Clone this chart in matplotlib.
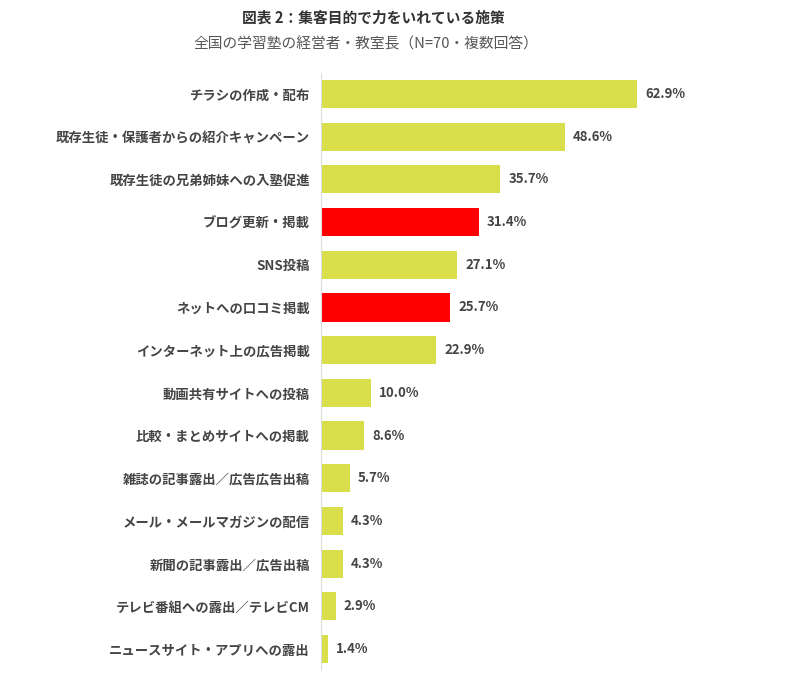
import matplotlib
matplotlib.use('Agg')
import matplotlib.pyplot as plt

plt.rcParams['font.family'] = ['Noto Sans CJK JP', 'DejaVu Sans']

categories = [
    "チラシの作成・配布",
    "既存生徒・保護者からの紹介キャンペーン",
    "既存生徒の兄弟姉妹への入塾促進",
    "ブログ更新・掲載",
    "SNS投稿",
    "ネットへの口コミ掲載",
    "インターネット上の広告掲載",
    "動画共有サイトへの投稿",
    "比較・まとめサイトへの掲載",
    "雑誌の記事露出／広告広告出稿",
    "メール・メールマガジンの配信",
    "新聞の記事露出／広告出稿",
    "テレビ番組への露出／テレビCM",
    "ニュースサイト・アプリへの露出",
]
values = [62.9, 48.6, 35.7, 31.4, 27.1, 25.7, 22.9, 10.0, 8.6, 5.7, 4.3, 4.3, 2.9, 1.4]
highlight = ["ブログ更新・掲載", "ネットへの口コミ掲載"]

yellow = '#d9df4b'
red = '#ff0000'
text_col = '#444444'

fig = plt.figure(figsize=(7.9, 6.99), dpi=100)
W, H = 790, 699
left_px, right_px = 321, 750
top_px, bottom_px = 72.6, 670.4
ax = fig.add_axes([left_px / W, 1 - bottom_px / H,
                   (right_px - left_px) / W, (bottom_px - top_px) / H])

n = len(categories)
ypos = list(range(n))
colors = [red if c in highlight else yellow for c in categories]
ax.barh(ypos, values, height=0.66, color=colors, zorder=2)
ax.set_ylim(n - 0.5, -0.5)
ax.set_xlim(0, (right_px - left_px) / (316 / 62.9))

for y, v in zip(ypos, values):
    ax.text(v + 1.6, y, f"{v:.1f}%", va='center', ha='left',
            fontsize=9.5, fontweight='bold', color=text_col)

ax.set_yticks(ypos)
ax.set_yticklabels(categories, fontsize=9.6, fontweight='bold', color=text_col)
ax.tick_params(axis='y', length=0, pad=8)
ax.set_xticks([])
for s in ['top', 'right', 'bottom']:
    ax.spines[s].set_visible(False)
ax.spines['left'].set_color('#dddddd')
ax.spines['left'].set_linewidth(0.8)

fig.text(373 / W, 1 - 18 / H, "図表 2：集客目的で力をいれている施策", ha='center', va='center',
         fontsize=10.6, fontweight='bold', color='#333333')
fig.text(366 / W, 1 - 44 / H, "全国の学習塾の経営者・教室長（N=70・複数回答）", ha='center', va='center',
         fontsize=10.6, color='#555555')

fig.savefig('out.png', dpi=100)
